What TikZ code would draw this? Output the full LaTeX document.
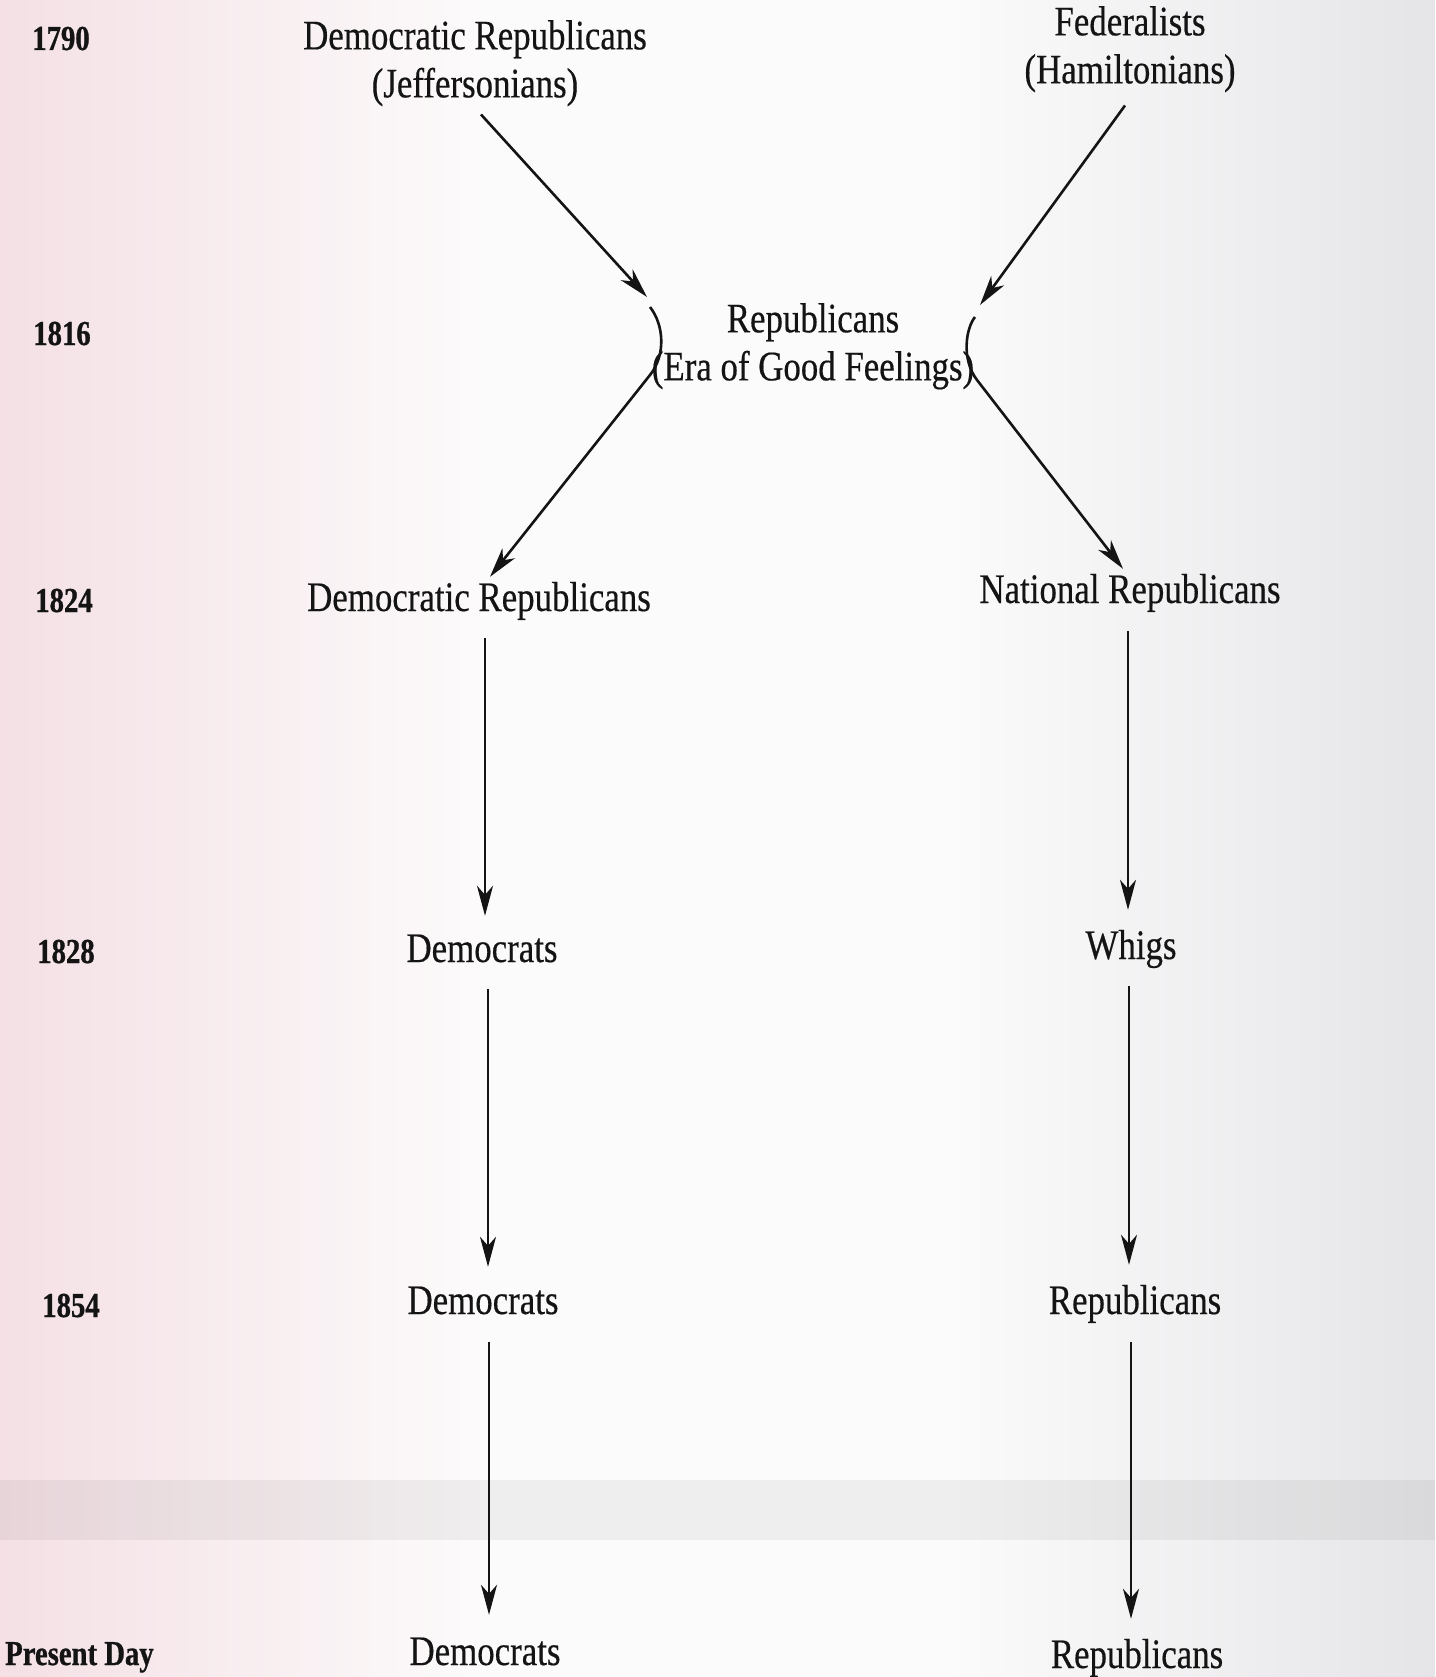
\documentclass[tikz,border=0pt]{standalone}
\usepackage{fontspec}
\setmainfont{Liberation Serif}
\newfontfamily\namefont[FakeStretch=0.83,FakeBold=0.4]{Liberation Serif}
\newfontfamily\yearfont[FakeStretch=0.82,FakeBold=0.8]{Liberation Serif}
\usetikzlibrary{arrows.meta}
\definecolor{ink}{RGB}{20,20,20}
\definecolor{paperL}{RGB}{244,224,229}
\definecolor{paperM}{RGB}{252,251,251}
\definecolor{paperR}{RGB}{229,229,232}
\pgfdeclarehorizontalshading{paper}{100bp}{color(0bp)=(paperL); color(25bp)=(paperL); color(42bp)=(paperM); color(58bp)=(paperM); color(75bp)=(paperR); color(100bp)=(paperR)}
\tikzset{
  partylbl/.style={font=\namefont\fontsize{42}{48}\selectfont, text=ink, inner sep=0pt,
    text height=29pt, text depth=9pt, anchor=base},
  partytwo/.style={font=\namefont\fontsize{42}{48}\selectfont, text=ink, inner sep=0pt,
    align=center, anchor=north},
  yearlbl/.style={font=\yearfont\bfseries\fontsize{35}{40}\selectfont, text=ink, inner sep=0pt, anchor=base},
  succarrow/.style={draw=ink, line width=2.6pt, -{Stealth[length=30pt,width=16pt,inset=9pt]}}
}
\begin{document}
\begin{tikzpicture}[x=1pt,y=-1pt]
\useasboundingbox (0,0) rectangle (1435,1677);
\shade[shading=paper] (0,0) rectangle (1435,1677);
\fill[black, opacity=0.05] (0,1480) rectangle (1435,1540);

% years
\node[yearlbl] (y1790) at (61,50) {1790};
\node[yearlbl] (y1816) at (62,345) {1816};
\node[yearlbl] (y1824) at (64,612) {1824};
\node[yearlbl] (y1828) at (66,963) {1828};
\node[yearlbl] (y1854) at (71,1317) {1854};
\node[yearlbl, anchor=base west] (ypd) at (5,1665) {Present Day};

% parties
\node[partytwo] (jeff) at (475,20) {Democratic Republicans\\(Jeffersonians)};
\node[partytwo] (fed) at (1130,6) {Federalists\\(Hamiltonians)};
\node[partytwo] (era) at (813,303) {Republicans\\(Era of Good Feelings)};
\node[partylbl] (dr24) at (479,611) {Democratic Republicans};
\node[partylbl] (nr) at (1130,603) {National Republicans};
\node[partylbl] (dem28) at (482,962) {Democrats};
\node[partylbl] (whigs) at (1131,959) {Whigs};
\node[partylbl] (dem54) at (483,1314) {Democrats};
\node[partylbl] (rep54) at (1135,1314) {Republicans};
\node[partylbl] (demP) at (485,1665) {Democrats};
\node[partylbl] (repP) at (1137,1668) {Republicans};

% bracket points around the Era node
\coordinate (bLtip) at (647,297);
\coordinate (bRtip) at (980,305);
\coordinate (bLtop) at (650,307);
\coordinate (bLjoin) at (650,375);
\coordinate (bRtop) at (975,317);
\coordinate (bRjoin) at (977,380);

% merging arrows
\draw[succarrow] ([xshift=6pt,yshift=-8pt]jeff.south) -- (bLtip);
\draw[succarrow] ([xshift=-5pt,yshift=-13pt]fed.south) -- (bRtip);

% splitting brackets
\draw[succarrow] (bLtop) .. controls (664,325) and (666,355) .. (bLjoin) -- ([xshift=11pt,yshift=5pt]dr24.north);
\draw[succarrow] (bRtop) .. controls (966,328) and (961,359) .. (bRjoin) -- ([xshift=-7pt,yshift=5pt]nr.north);

% vertical successions
\draw[succarrow] ([xshift=6pt,yshift=-18pt]dr24.south) -- ([xshift=3pt,yshift=17pt]dem28.north);
\draw[succarrow] ([xshift=-2pt,yshift=-19pt]nr.south) -- ([xshift=-3pt,yshift=20pt]whigs.north);
\draw[succarrow] ([xshift=6pt,yshift=-18pt]dem28.south) -- ([xshift=5pt,yshift=18pt]dem54.north);
\draw[succarrow] ([xshift=-2pt,yshift=-18pt]whigs.south) -- ([xshift=-6pt,yshift=20pt]rep54.north);
\draw[succarrow] ([xshift=6pt,yshift=-19pt]dem54.south) -- ([xshift=4pt,yshift=21pt]demP.north);
\draw[succarrow] ([xshift=-4pt,yshift=-19pt]rep54.south) -- ([xshift=-6pt,yshift=20pt]repP.north);
\end{tikzpicture}
\end{document}
